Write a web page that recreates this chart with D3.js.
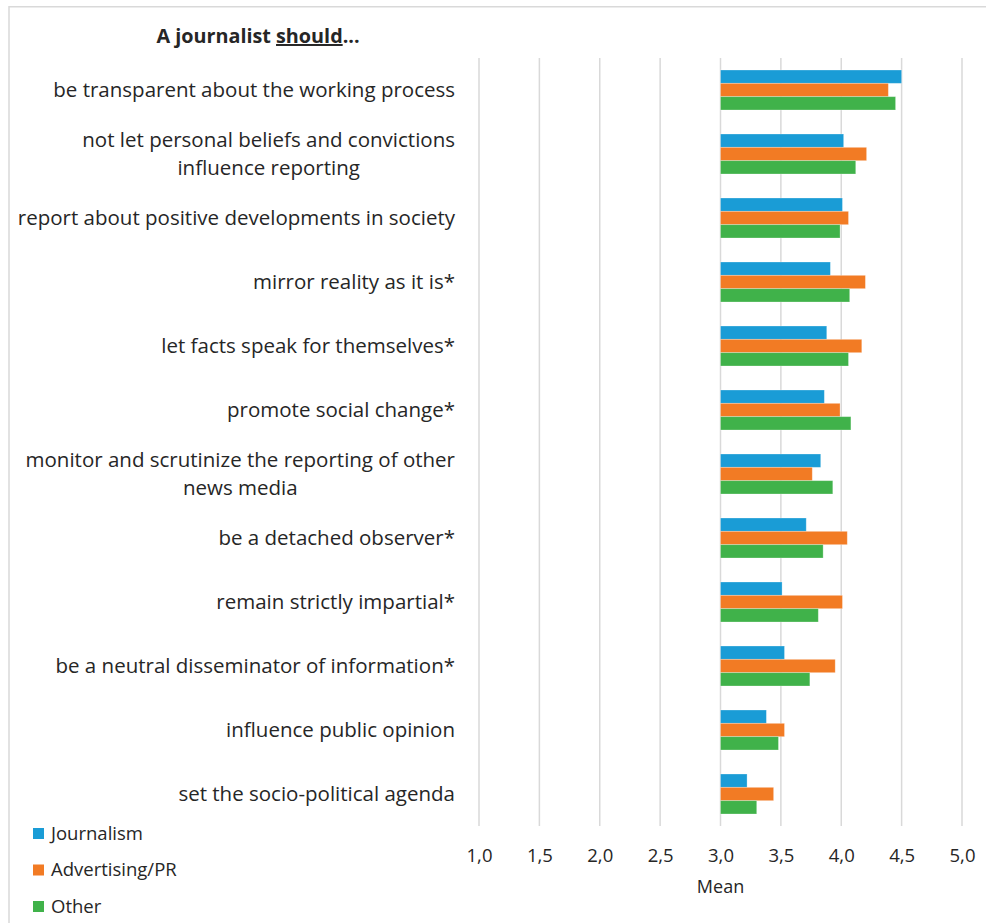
<!DOCTYPE html>
<html>
<head>
<meta charset="utf-8">
<script src="https://cdn.jsdelivr.net/npm/d3@7"></script>
<style>
  html, body { margin: 0; padding: 0; background: #fff; }
  svg { display: block; }
  text { font-family: "Open Sans", Lato, sans-serif; fill: #262626; }
</style>
</head>
<body>
<svg id="chart" width="986" height="923"></svg>
<script>
// Statements rated (top to bottom); "\n" marks a wrapped label line
const categories = [
  "be transparent about the working process",
  "not let personal beliefs and convictions\ninfluence reporting",
  "report about positive developments in society",
  "mirror reality as it is*",
  "let facts speak for themselves*",
  "promote social change*",
  "monitor and scrutinize the reporting of other\nnews media",
  "be a detached observer*",
  "remain strictly impartial*",
  "be a neutral disseminator of information*",
  "influence public opinion",
  "set the socio-political agenda"
];

const seriesNames = ["Journalism", "Advertising/PR", "Other"];
const seriesColors = ["#1a9cd6", "#f27b24", "#40b24a"];

// Mean ratings per group
const journalism  = [4.50, 4.02, 4.01, 3.91, 3.88, 3.86, 3.83, 3.71, 3.51, 3.53, 3.38, 3.22];
const advertising = [4.39, 4.21, 4.06, 4.20, 4.17, 3.99, 3.76, 4.05, 4.01, 3.95, 3.53, 3.44];
const other       = [4.45, 4.12, 3.99, 4.07, 4.06, 4.08, 3.93, 3.85, 3.81, 3.74, 3.48, 3.30];

const tickValues = [1.0, 1.5, 2.0, 2.5, 3.0, 3.5, 4.0, 4.5, 5.0];
const barBase = 3.0;   // bars grow from the 3,0 line

const seriesValues = [journalism, advertising, other];

const svg = d3.select("#chart");

// outer frame
svg.append("rect")
  .attr("x", 9).attr("y", 6.75)
  .attr("width", 1000).attr("height", 1000)
  .attr("fill", "none")
  .attr("stroke", "#d9d9d9")
  .attr("stroke-width", 1.5);

const plot = { left: 479, right: 962, top: 58, bottom: 826 };

const x = d3.scaleLinear().domain([1, 5]).range([plot.left, plot.right]);
const y = d3.scaleBand().domain(categories)
  .range([plot.top, plot.bottom])
  .paddingInner(0.375).paddingOuter(0.1875);
const ys = d3.scaleBand().domain(seriesNames).range([0, y.bandwidth()]);

// vertical gridlines
svg.append("g").selectAll("line")
  .data(tickValues)
  .join("line")
  .attr("x1", d => x(d)).attr("x2", d => x(d))
  .attr("y1", plot.top).attr("y2", plot.bottom)
  .attr("stroke", "#d9d9d9")
  .attr("stroke-width", 1.5);

// bars
const groups = svg.append("g").selectAll("g")
  .data(categories)
  .join("g")
  .attr("transform", d => `translate(0,${y(d)})`);

groups.selectAll("rect")
  .data((d, i) => seriesNames.map((s, j) => ({ s, j, v: seriesValues[j][i] })))
  .join("rect")
  .attr("x", x(barBase))
  .attr("y", d => ys(d.s))
  .attr("width", d => x(d.v) - x(barBase))
  .attr("height", ys.bandwidth())
  .attr("fill", d => seriesColors[d.j])
  .attr("stroke", "#ffffff")
  .attr("stroke-opacity", 0.35)
  .attr("stroke-width", 0.8);

// category labels, right-aligned block, wrapped lines centred within it
const labelRight = 455;
const lineGap = 28;
const labels = svg.append("g").attr("font-size", 20.5);
categories.forEach(cat => {
  const lines = cat.split("\n");
  const g = labels.append("g");
  const cy = y(cat) + y.bandwidth() / 2;
  const texts = lines.map((ln, k) => g.append("text")
    .attr("y", cy + (k - (lines.length - 1) / 2) * lineGap)
    .attr("dy", "0.35em")
    .text(ln));
  const widths = texts.map(t => t.node().getComputedTextLength());
  const blockW = d3.max(widths);
  texts.forEach(t => t.attr("x", labelRight - blockW / 2).attr("text-anchor", "middle"));
});

// x axis (comma decimal separator)
const locale = d3.formatLocale({ decimal: ",", thousands: ".", grouping: [3], currency: ["", " €"] });
const fmt = locale.format(".1f");
const axis = svg.append("g")
  .attr("transform", `translate(0,${plot.bottom})`)
  .call(d3.axisBottom(x).tickValues(tickValues).tickFormat(fmt).tickSize(0).tickPadding(23));
axis.select(".domain").remove();
axis.selectAll("text")
  .attr("font-size", 18.5)
  .attr("font-family", "'Open Sans', Lato, sans-serif")
  .attr("fill", "#262626");

svg.append("text")
  .attr("x", x(3)).attr("y", 893)
  .attr("text-anchor", "middle")
  .attr("font-size", 18)
  .text("Mean");

// title
const title = svg.append("text")
  .attr("x", 258).attr("y", 43)
  .attr("text-anchor", "middle")
  .attr("font-size", 19.8)
  .attr("font-weight", "bold");
title.append("tspan").text("A journalist ");
title.append("tspan").attr("text-decoration", "underline").text("should");
title.append("tspan").text("...");

// legend
const legend = svg.append("g").selectAll("g")
  .data(seriesNames)
  .join("g")
  .attr("transform", (d, i) => `translate(33,${833.5 + i * 36.5})`);
legend.append("rect")
  .attr("x", 0).attr("y", -5.5)
  .attr("width", 11).attr("height", 11)
  .attr("fill", (d, i) => seriesColors[i]);
legend.append("text")
  .attr("x", 18).attr("dy", "0.35em")
  .attr("font-size", 18.5)
  .text(d => d);
</script>
</body>
</html>
